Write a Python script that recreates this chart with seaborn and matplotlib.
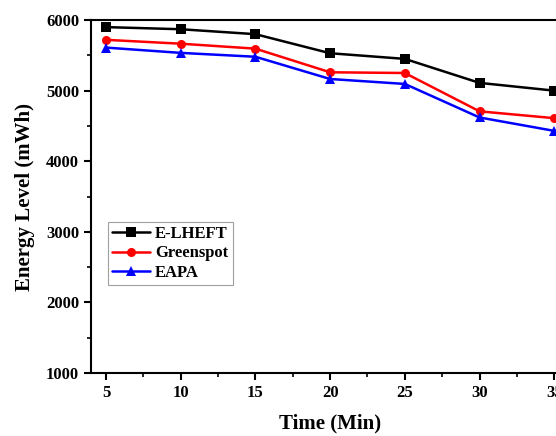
import matplotlib
matplotlib.use("Agg")
import matplotlib.pyplot as plt
import seaborn as sns
import pandas as pd
from matplotlib.ticker import MultipleLocator, AutoMinorLocator

time = [5, 10, 15, 20, 25, 30, 35]
elheft = [5900, 5870, 5800, 5530, 5450, 5110, 5000]
greenspot = [5720, 5665, 5595, 5260, 5250, 4707, 4610]
eapa = [5610, 5535, 5480, 5165, 5095, 4620, 4430]

series = ["E-LHEFT", "Greenspot", "EAPA"]
df = pd.concat([
    pd.DataFrame({"Time": time, "Energy": v, "Method": n})
    for n, v in zip(series, [elheft, greenspot, eapa])
])

sns.set_style("ticks")
plt.rcParams['font.family'] = ['Liberation Serif', 'DejaVu Serif']
plt.rcParams['font.weight'] = 'bold'
plt.rcParams['text.color'] = 'black'
plt.rcParams['axes.labelcolor'] = 'black'
plt.rcParams['xtick.color'] = 'black'
plt.rcParams['ytick.color'] = 'black'
plt.rcParams['axes.edgecolor'] = 'black'

fig = plt.figure(figsize=(5.56, 4.36), dpi=100)
ax = fig.add_axes([0.1637, 0.1445, 0.86, 0.8095])

palette = {"E-LHEFT": "#000000", "Greenspot": "#ff0000", "EAPA": "#0000ff"}
markers = {"E-LHEFT": "s", "Greenspot": "o", "EAPA": "^"}
sns.lineplot(data=df, x="Time", y="Energy", hue="Method", style="Method",
             palette=palette, markers=markers, dashes=False, markersize=6.5,
             linewidth=1.8, markeredgewidth=0, ax=ax)

ax.set_xlim(4, 36)
ax.set_ylim(1000, 6000)
ax.xaxis.set_major_locator(MultipleLocator(5))
ax.xaxis.set_minor_locator(AutoMinorLocator(2))
ax.yaxis.set_major_locator(MultipleLocator(1000))
ax.yaxis.set_minor_locator(AutoMinorLocator(2))
ax.tick_params(which='major', direction='out', length=5, width=1.5, labelsize=12)
ax.tick_params(which='minor', direction='out', length=3, width=1.2)
for lab in ax.get_xticklabels() + ax.get_yticklabels():
    lab.set_fontweight('bold')
for s in ax.spines.values():
    s.set_linewidth(1.5)
ax.spines['right'].set_visible(False)

ax.set_xlabel("Time (Min)", fontsize=15, fontweight='bold', labelpad=9)
ax.set_ylabel("Energy Level (mWh)", fontsize=15, fontweight='bold', labelpad=8)

leg = ax.legend(loc='upper left', bbox_to_anchor=(0.035, 0.428), fontsize=12,
                frameon=True, fancybox=False, handlelength=2.3, handletextpad=0.3,
                borderpad=0.25, labelspacing=0.2, borderaxespad=0)
leg.get_frame().set_edgecolor('#888888')
leg.get_frame().set_linewidth(0.8)
for t in leg.get_texts():
    t.set_fontweight('bold')

fig.savefig("out.png", dpi=100)
